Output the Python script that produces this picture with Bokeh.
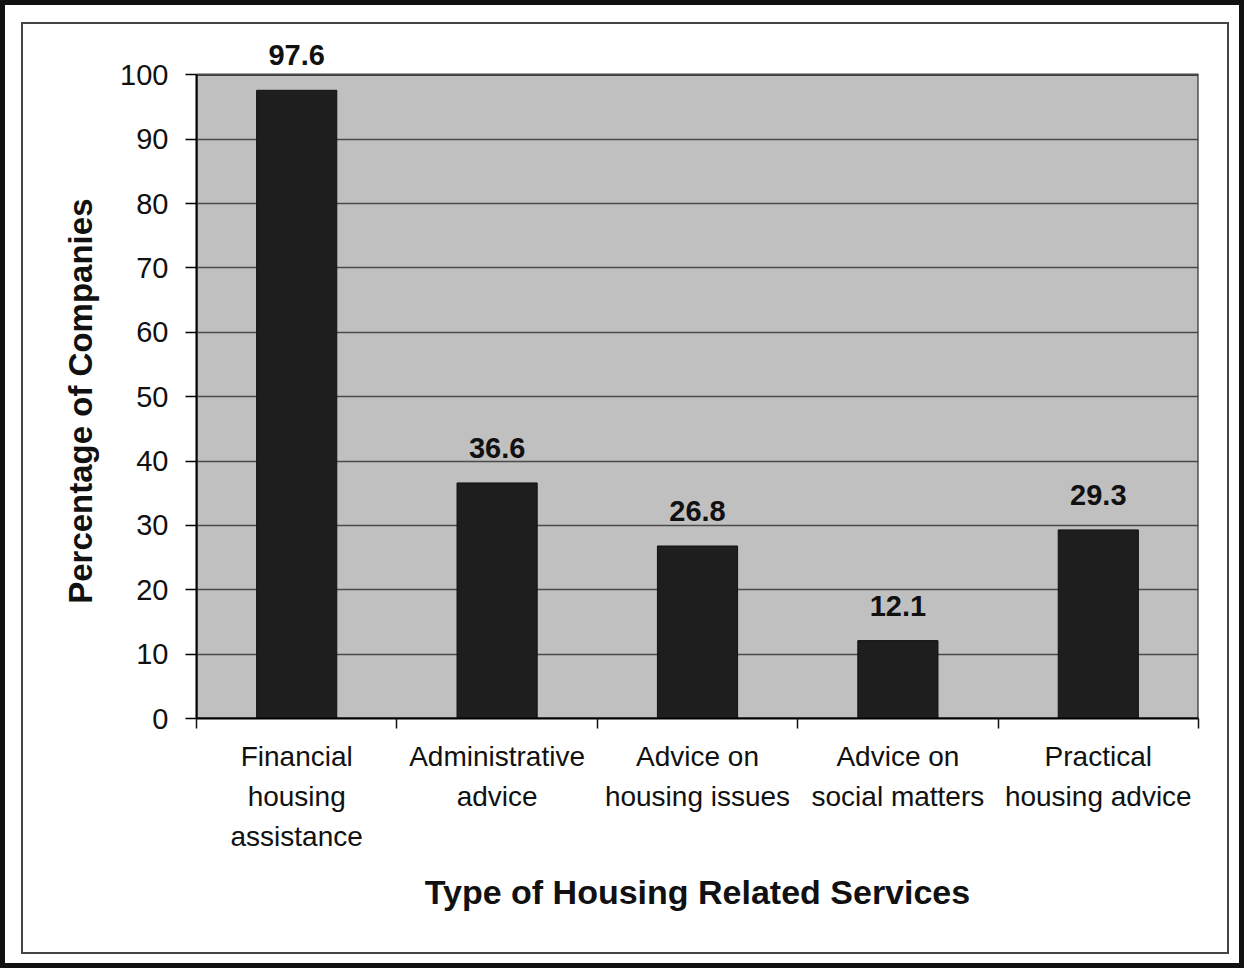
from bokeh.plotting import figure
from bokeh.models import Range1d, FixedTicker, ColumnDataSource, LabelSet, BoxAnnotation
from bokeh.core.properties import value
from bokeh.embed import file_html
from bokeh.resources import INLINE

categories = ["Financial\nhousing\nassistance", "Administrative\nadvice",
              "Advice on\nhousing issues", "Advice on\nsocial matters",
              "Practical\nhousing advice"]
values = [97.6, 36.6, 26.8, 12.1, 29.3]
value_labels = ["97.6", "36.6", "26.8", "12.1", "29.3"]
y_ticks = [0, 10, 20, 30, 40, 50, 60, 70, 80, 90, 100]
y_max = 100

FONT = "Liberation Sans"

n = len(categories)
xs = [i + 0.5 for i in range(n)]
src = ColumnDataSource(dict(x=xs, top=values, label=value_labels))

# the frame extends above 100 (white) so the value labels are not clipped
p = figure(width=1244, height=968, output_backend="svg", toolbar_location=None,
           x_range=Range1d(0, n), y_range=Range1d(0, 110),
           min_border_left=196, min_border_right=46, min_border_top=10, min_border_bottom=250,
           background_fill_color=None, border_fill_color=None,
           outline_line_color=None)

p.styles = {"outline": "5px solid #111", "outline-offset": "-5px",
            "box-shadow": "inset 3px 4px 0 18px #fff, inset 3px 4px 0 20px #444",
            "background": "#fff"}

plot_area = BoxAnnotation(left=0, right=n, bottom=0, top=y_max, level="image",
                          fill_color="#c0c0c0", fill_alpha=1.0,
                          line_color="#111111", line_width=2, line_alpha=1.0)
p.add_layout(plot_area)

p.vbar(x="x", top="top", bottom=0, width=0.4, source=src,
       fill_color="#1e1e1e", line_color="#111111", line_width=1)

labels = LabelSet(x="x", y="top", text="label", source=src, y_offset=25,
                  text_align="center", text_baseline="alphabetic",
                  text_font=value(FONT), text_font_size=value("29px"),
                  text_font_style=value("bold"), text_color="#111111")
p.add_layout(labels)

# y axis
p.yaxis.ticker = FixedTicker(ticks=y_ticks)
p.yaxis.bounds = (0, y_max)
p.yaxis.minor_tick_line_color = None
p.yaxis.major_tick_in = 0
p.yaxis.major_tick_out = 11
p.yaxis.major_tick_line_width = 1.5
p.yaxis.major_label_standoff = 17
p.yaxis.major_label_text_font = FONT
p.yaxis.major_label_text_font_size = "29px"
p.yaxis.major_label_text_color = "#111111"
p.yaxis.axis_line_width = 2
# trailing no-break spaces re-centre the title on the 0-100 part of the frame
p.yaxis.axis_label = "Percentage of Companies" + "\u00a0" * 8
p.yaxis.axis_label_text_font = FONT
p.yaxis.axis_label_text_font_size = "33px"
p.yaxis.axis_label_text_font_style = "bold"
p.yaxis.axis_label_text_color = "#111111"
p.yaxis.axis_label_standoff = 18

# x axis
p.xaxis.ticker = FixedTicker(ticks=xs, minor_ticks=list(range(n + 1)))
p.xaxis.major_label_overrides = {x: c for x, c in zip(xs, categories)}
p.xaxis.major_tick_line_color = None
p.xaxis.minor_tick_in = 0
p.xaxis.minor_tick_out = 10
p.xaxis.minor_tick_line_width = 1.5
p.xaxis.minor_tick_line_color = "#111111"
p.xaxis.major_label_standoff = 12
p.xaxis.major_label_text_font = FONT
p.xaxis.major_label_text_font_size = "28px"
p.xaxis.major_label_text_line_height = 1.3
p.xaxis.major_label_text_color = "#111111"
p.xaxis.axis_line_width = 2
p.xaxis.axis_label = "Type of Housing Related Services"
p.xaxis.axis_label_text_font = FONT
p.xaxis.axis_label_text_font_size = "34px"
p.xaxis.axis_label_text_font_style = "bold"
p.xaxis.axis_label_text_color = "#111111"
p.xaxis.axis_label_standoff = 18

p.xgrid.grid_line_color = None
p.ygrid.ticker = FixedTicker(ticks=y_ticks)
p.ygrid.grid_line_color = "#4a4a4a"
p.ygrid.grid_line_width = 1.5
p.ygrid.bounds = (0, y_max)

open("out.html", "w").write(file_html(p, INLINE))
